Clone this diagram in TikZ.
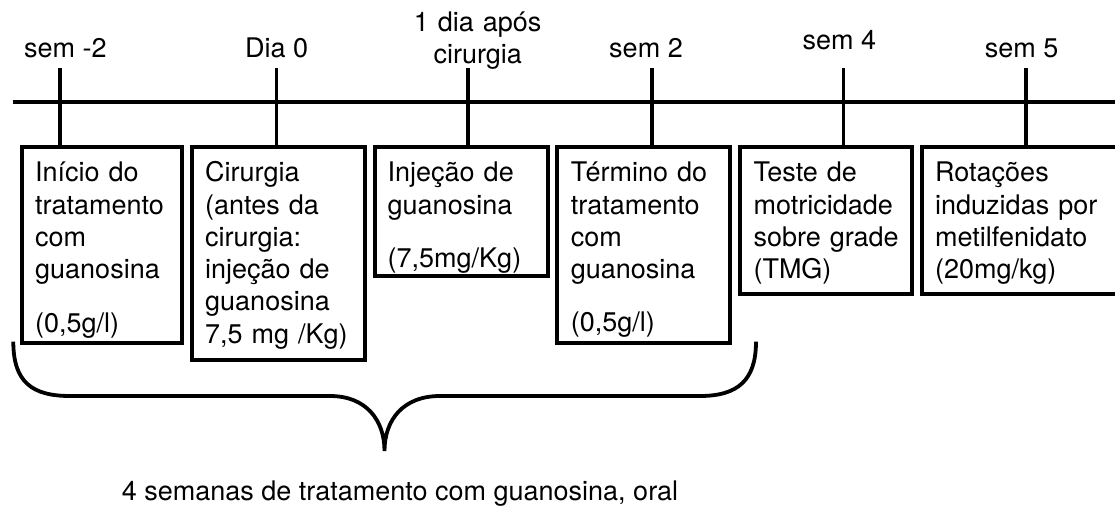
\documentclass[tikz,border=0pt]{standalone}
\usepackage{fontspec}
\setmainfont{TeX Gyre Heros}
\newcommand{\mfs}{\fontsize{27}{32.3}\selectfont}
\begin{document}
\begin{tikzpicture}[x=1pt,y=-1pt,
  lw/.style={line width=3.8pt},
  box/.style={draw, lw, inner sep=0pt, outer sep=0pt, anchor=north west},
  btxt/.style={anchor=base west, inner sep=0pt, align=left, text width=185pt, font=\mfs},
  lbl/.style={anchor=base, inner sep=0pt, font=\mfs}]
\useasboundingbox (0,0) rectangle (1115,508);
\clip (0,0) rectangle (1115,508);
% timeline
\coordinate (tl0) at (12.7,102.3);
\coordinate (tl1) at (1125,102.3);
\draw[lw] (tl0) -- (tl1);
% boxes
\node[box, minimum width=160.3pt, minimum height=196pt] (b1) at (21.7,147) {};
\node[box, minimum width=173pt, minimum height=212.7pt] (b2) at (191.7,147) {};
\node[box, minimum width=173.3pt, minimum height=129pt] (b3) at (374.7,147) {};
\node[box, minimum width=173.3pt, minimum height=195.7pt] (b4) at (557,147) {};
\node[box, minimum width=171.7pt, minimum height=146.7pt] (b5) at (740.3,147) {};
\node[box, minimum width=210pt, minimum height=146.7pt] (b6) at (922,147) {};
% box texts
\node[btxt] (x1) at (35,181.7) {Início do\\tratamento\\com\\guanosina\\[22pt](0,5g/l)};
\node[btxt] (x2) at (205,181.7) {Cirurgia\\(antes da\\cirurgia:\\injeção de\\guanosina\\7,5 mg /Kg)};
\node[btxt] (x3) at (387.5,181.7) {Injeção de\\guanosina\\[21pt](7,5mg/Kg)};
\node[btxt] (x4) at (570.7,181.7) {Término do\\tratamento\\com\\guanosina\\[21pt](0,5g/l)};
\node[btxt] (x5) at (753.3,181.7) {Teste de\\motricidade\\sobre grade\\(TMG)};
\node[btxt] (x6) at (935,181.7) {Rotações\\induzidas por\\metilfenidato\\(20mg/kg)};
% ticks
\coordinate (t1) at (60,68.3);
\coordinate (t2) at (276.5,68.3);
\coordinate (t3) at (468.3,68.3);
\coordinate (t4) at (651.7,68.3);
\coordinate (t5) at (843.5,68.3);
\coordinate (t6) at (1026,68.3);
\draw[lw] (t1) -- (t1 |- b1.north);
\draw[lw] (t2) -- (t2 |- b2.north);
\draw[lw] (t3) -- (t3 |- b3.north);
\draw[lw] (t4) -- (t4 |- b4.north);
\draw[lw] (t5) -- (t5 |- b5.north);
\draw[lw] (t6) -- (t6 |- b6.north);
% labels
\node[lbl] (l1) at (65.3,57.3) {sem -2};
\node[lbl] (l2) at (276.7,57.3) {Dia 0};
\node[lbl, text width=150pt, align=center] (l3) at (477.7,31.7) {1 dia após\\cirurgia};
\node[lbl] (l4) at (646,57.3) {sem 2};
\node[lbl] (l5) at (839.3,50) {sem 4};
\node[lbl] (l6) at (1021.7,57.3) {sem 5};
% brace
\coordinate (br0) at (13.3,341.7);
\coordinate (brtip) at (384.5,451);
\coordinate (br1) at (756,341.7);
\draw[lw] (br0) .. controls (13.3,382) and (32,396) .. (70,396)
  -- (330,396) .. controls (366,396) and (384.5,420) .. (brtip)
  .. controls (384.5,420) and (403,396) .. (440,396)
  -- (700,396) .. controls (738,396) and (756,380) .. (br1);
\node[lbl] (bt) at (400,500) {4 semanas de tratamento com guanosina, oral};
\end{tikzpicture}
\end{document}
